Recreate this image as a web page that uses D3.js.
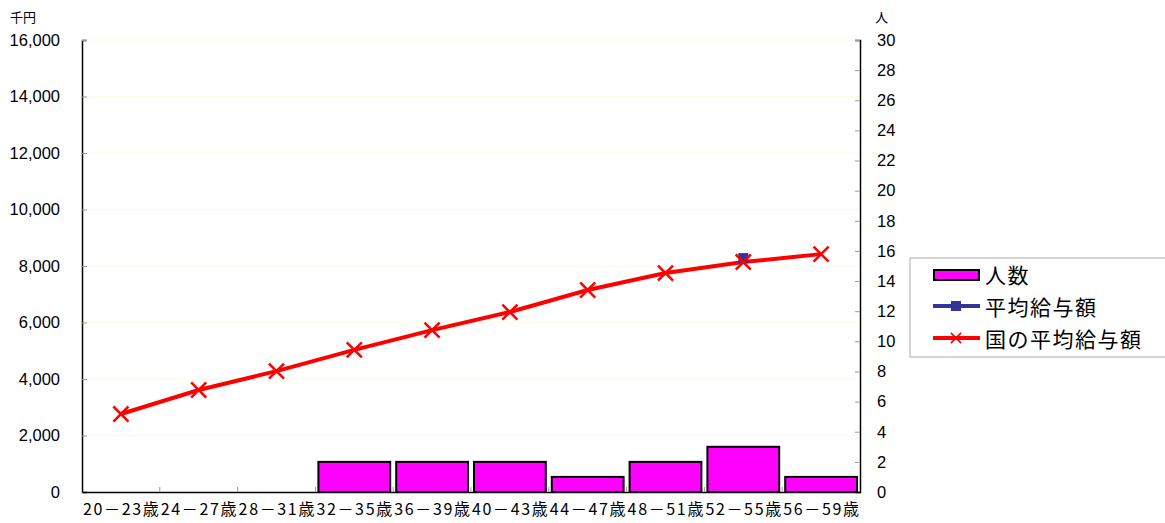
<!DOCTYPE html>
<html>
<head>
<meta charset="utf-8">
<script src="https://cdn.jsdelivr.net/npm/d3@7"></script>
<style>
  body { margin: 0; background: #fff; }
  text { font-family: "Noto Sans CJK JP", sans-serif; fill: #000; }
</style>
</head>
<body>
<script>
// data
var categories = ["20－23歳", "24－27歳", "28－31歳", "32－35歳", "36－39歳",
                  "40－43歳", "44－47歳", "48－51歳", "52－55歳", "56－59歳"];
var ninzu = [0, 0, 0, 2, 2, 2, 1, 2, 3, 1];
var heikin = [null, null, null, null, null, null, null, null, 8280, null];
var kuniHeikin = [2760, 3610, 4280, 5030, 5730, 6370, 7150, 7750, 8140, 8420];
var leftTicks = [0, 2000, 4000, 6000, 8000, 10000, 12000, 14000, 16000];
var rightTicks = d3.range(0, 31, 2);

var margin = {top: 40, right: 305, bottom: 31, left: 82},
    width = 1165 - margin.left - margin.right,
    height = 523 - margin.top - margin.bottom;

var svg = d3.select("body").append("svg")
    .attr("width", 1165)
    .attr("height", 523);

var g = svg.append("g")
    .attr("transform", "translate(" + margin.left + "," + margin.top + ")");

var x = d3.scaleBand().domain(categories).range([0, width]).padding(0);
var yL = d3.scaleLinear().domain([0, 16000]).range([height, 0]);
var yR = d3.scaleLinear().domain([0, 30]).range([height, 0]);

// gridlines
g.selectAll(".grid")
    .data(leftTicks.slice(1))
    .enter().append("line")
    .attr("x1", 0).attr("x2", width)
    .attr("y1", function(d) { return yL(d); })
    .attr("y2", function(d) { return yL(d); })
    .attr("stroke", "#fbfbe8");

// bars
g.selectAll(".bar")
    .data(ninzu)
    .enter().append("rect")
    .attr("x", function(d, i) { return x(categories[i]) + 3; })
    .attr("width", x.bandwidth() - 6)
    .attr("y", function(d) { return yR(d); })
    .attr("height", function(d) { return height - yR(d); })
    .attr("fill", "#ff00ff")
    .attr("stroke", "#000")
    .attr("stroke-width", 2)
    .style("display", function(d) { return d > 0 ? null : "none"; });

// axes
var axL = g.append("g")
    .call(d3.axisLeft(yL).tickValues(leftTicks).tickSize(-5).tickPadding(22)
      .tickFormat(d3.format(",")));
var axR = g.append("g")
    .attr("transform", "translate(" + width + ",0)")
    .call(d3.axisRight(yR).tickValues(rightTicks).tickSize(-5).tickPadding(17));
var axX = g.append("g")
    .attr("transform", "translate(0," + height + ")")
    .call(d3.axisBottom(x).tickSize(0).tickPadding(12));

[axL, axR, axX].forEach(function(a) {
  a.select(".domain").attr("stroke", "#000").attr("stroke-width", 1.5);
  a.selectAll(".tick line").attr("stroke", "#999");
  a.selectAll("text").attr("fill", "#000");
});
axL.selectAll("text").style("font-size", "16.5px")
    .style("font-family", "Liberation Sans, Arial, sans-serif");
axR.selectAll("text").style("font-size", "16.5px")
    .style("font-family", "Liberation Sans, Arial, sans-serif");
axX.selectAll("text").style("font-size", "16px")
    .attr("textLength", x.bandwidth() - 2)
    .attr("lengthAdjust", "spacing");

// category boundary ticks on x axis
g.selectAll(".xtick")
    .data(categories.slice(1))
    .enter().append("line")
    .attr("x1", function(d) { return x(d); })
    .attr("x2", function(d) { return x(d); })
    .attr("y1", height).attr("y2", height - 5)
    .attr("stroke", "#999");

// national average line
var line = d3.line()
    .defined(function(d) { return d != null; })
    .x(function(d, i) { return x(categories[i]) + x.bandwidth() / 2; })
    .y(function(d) { return yL(d); });

g.append("path")
    .datum(kuniHeikin)
    .attr("d", line)
    .attr("fill", "none")
    .attr("stroke", "#ff0000")
    .attr("stroke-width", 4);

// blue square marker
heikin.forEach(function(d, i) {
  if (d == null) return;
  g.append("rect")
    .attr("x", x(categories[i]) + x.bandwidth() / 2 - 5)
    .attr("y", yL(d) - 5)
    .attr("width", 10).attr("height", 10)
    .attr("fill", "#333399");
});

// crosses
var cross = d3.symbol().type(d3.symbolX).size(150);
g.selectAll(".pt")
    .data(kuniHeikin)
    .enter().append("path")
    .attr("d", cross)
    .attr("transform", function(d, i) {
      return "translate(" + (x(categories[i]) + x.bandwidth() / 2) + "," + yL(d) + ")";
    })
    .attr("fill", "none")
    .attr("stroke", "#ff0000")
    .attr("stroke-width", 2.5);

// axis titles
svg.append("text").attr("x", 10).attr("y", 22).style("font-size", "13px").text("千円");
svg.append("text").attr("x", 875).attr("y", 22).style("font-size", "13px").text("人");

// legend
var lg = svg.append("g").attr("transform", "translate(910,258)");
lg.append("rect").attr("width", 256).attr("height", 99)
    .attr("fill", "#fff").attr("stroke", "#aaa");
lg.append("rect").attr("x", 24).attr("y", 12).attr("width", 45).attr("height", 10)
    .attr("fill", "#ff00ff").attr("stroke", "#000").attr("stroke-width", 2);
lg.append("line").attr("x1", 23).attr("x2", 70).attr("y1", 48).attr("y2", 48)
    .attr("stroke", "#333399").attr("stroke-width", 4);
lg.append("rect").attr("x", 41).attr("y", 43).attr("width", 10).attr("height", 10)
    .attr("fill", "#333399");
lg.append("line").attr("x1", 23).attr("x2", 70).attr("y1", 80).attr("y2", 80)
    .attr("stroke", "#ff0000").attr("stroke-width", 4);
lg.append("path").attr("d", d3.symbol().type(d3.symbolX).size(70))
    .attr("transform", "translate(46,80)")
    .attr("fill", "none").attr("stroke", "#ff0000").attr("stroke-width", 1.5);
var labels = ["人数", "平均給与額", "国の平均給与額"];
lg.selectAll(".lt").data(labels).enter().append("text")
    .attr("x", 75).attr("y", function(d, i) { return 25 + i * 32; })
    .style("font-size", "21px")
    .style("letter-spacing", "1.5px")
    .text(function(d) { return d; });
</script>
</body>
</html>
